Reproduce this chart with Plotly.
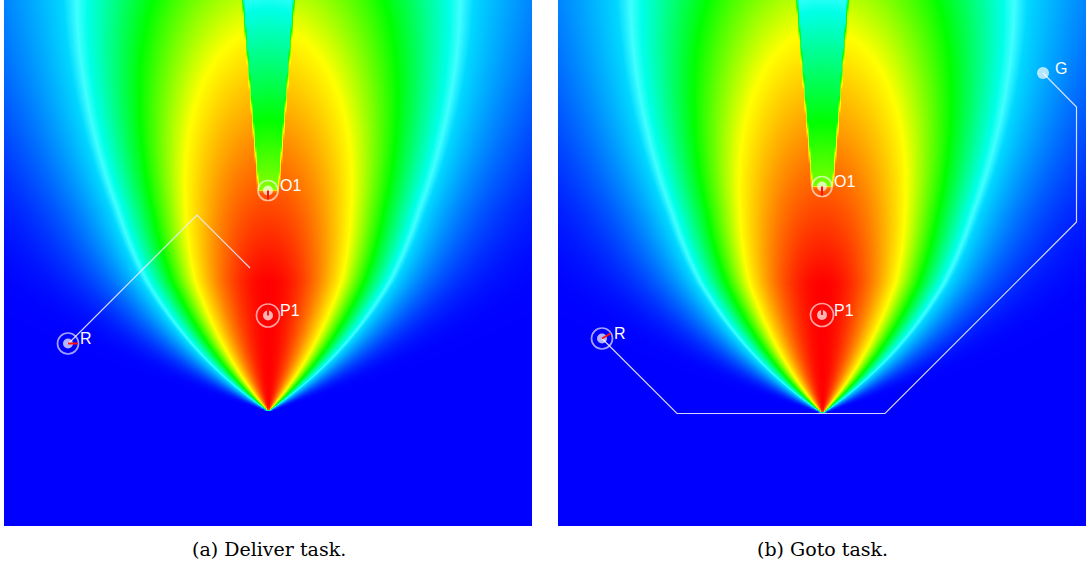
import numpy as np
import plotly.graph_objects as go

# ---------------- data (map cells, x to the right, y downward) ----------------
panel_titles = ["(a) Deliver task.", "(b) Goto task."]
panel_size = (529, 527)                      # map width / height in cells

sensor_apex = [(264, 411), (264, 413)]      # tip of the visibility cone
p1_pos = [(264, 315.5), (264, 315)]         # person P1
o1_pos = [(264, 190.5), (264, 186.5)]       # obstacle O1
robot_pos = [(64, 343.5), (44, 338.5)]      # robot R
robot_heading_deg = [0, 30]
goal_pos = [None, (485, 73)]                # goal G (Goto task only)

path_x = [[64, 193, 246], [44, 119, 327, 518.5, 518.5, 485]]
path_y = [[344, 215, 268], [338.5, 413.5, 413.5, 222, 107, 73]]

point_labels = ["P1", "O1", "R", "G"]

# field model parameters (visibility/cost field)
spread_gain = 7.6          # lateral spread ~ gain * sqrt(distance ahead)
spread_ramp = 60.0         # spread ramp-up near the apex
spread_far = 0.00042       # extra widening far from the apex
peak_flat = 130.0          # distance over which the peak stays at 1
peak_decay = 0.0013        # linear decay of the peak beyond peak_flat
shadow_drop = 0.29         # value removed inside O1's shadow
shadow_slope = 0.081       # half-width growth of the shadow wedge


def field(apex, p1, o1, step=2):
    W, H = panel_size
    xs = np.arange(step / 2, W, step)
    ys = np.arange(step / 2, H, step)
    X, Y = np.meshgrid(xs, ys)
    dy = apex[1] - Y
    dx = X - apex[0]
    dyp = np.clip(dy, 1e-6, None)
    sig = (spread_gain * np.sqrt(dyp) * np.sqrt(1 - np.exp(-dyp / spread_ramp))
           * (1 + spread_far * np.clip(dyp - 200, 0, None)))
    amp = np.clip(1 - peak_decay * np.clip(dyp - peak_flat, 0, None), 0, 1)
    f = amp * np.exp(-dx ** 2 / (2 * sig ** 2))
    f[dy <= 0] = 0
    # shadow cast by O1 as seen from P1 (soft edge for anti-aliasing)
    vx, vy = o1[0] - p1[0], o1[1] - p1[1]
    L = np.hypot(vx, vy)
    ux, uy = vx / L, vy / L
    along = (X - p1[0]) * ux + (Y - p1[1]) * uy
    perp = np.abs((X - p1[0]) * (-uy) + (Y - p1[1]) * ux)
    w = np.clip((shadow_slope * along - perp) / 1.5 + 0.5, 0, 1)
    w = w * np.clip((along - L) / 1.5 + 0.5, 0, 1)
    f = f - shadow_drop * w
    f = np.clip(f, 0, 1)
    return xs, ys, np.round(f, 3)


colorscale = [
    [0.0, "#0000ff"], [0.30, "#00d8ff"], [0.33, "#40ffff"], [0.355, "#00ffe8"],
    [0.5, "#00ff00"], [0.67, "#ffff00"], [0.83, "#ff8000"], [1.0, "#ff0000"],
]

FIG_W, FIG_H = 1092, 566
panel_px = [(4, 533), (558, 1087)]
panel_bottom_px = 527

fig = go.Figure()
annotations = []

for i in range(2):
    xa = "x" if i == 0 else "x2"
    ya = "y" if i == 0 else "y2"
    xs, ys, z = field(sensor_apex[i], p1_pos[i], o1_pos[i])
    fig.add_trace(go.Heatmap(
        x=xs, y=ys, z=z, zmin=0, zmax=1, colorscale=colorscale,
        showscale=False, zsmooth="best", hoverinfo="skip",
        xaxis=xa, yaxis=ya))
    # path
    fig.add_trace(go.Scatter(
        x=path_x[i], y=path_y[i], mode="lines",
        line=dict(color="rgba(235,235,255,0.9)", width=1.2),
        hoverinfo="skip", xaxis=xa, yaxis=ya, showlegend=False))
    # rings
    ring_pts = [p1_pos[i], o1_pos[i], robot_pos[i]]
    ring_sizes = [23, 20, 21]
    fig.add_trace(go.Scatter(
        x=[p[0] for p in ring_pts], y=[p[1] for p in ring_pts], mode="markers",
        marker=dict(symbol="circle-open", size=ring_sizes, color="rgba(255,255,255,0.9)",
                    line=dict(width=1.7)),
        hoverinfo="skip", xaxis=xa, yaxis=ya, showlegend=False))
    # dots
    dot_pts = [p1_pos[i], o1_pos[i], robot_pos[i]]
    dot_sizes = [10, 10, 10]
    if goal_pos[i] is not None:
        dot_pts.append(goal_pos[i])
        dot_sizes.append(12)
    fig.add_trace(go.Scatter(
        x=[p[0] for p in dot_pts], y=[p[1] for p in dot_pts], mode="markers",
        marker=dict(symbol="circle", size=dot_sizes, color="white", line=dict(width=0)),
        hoverinfo="skip", xaxis=xa, yaxis=ya, showlegend=False))
    # heading ticks
    headings = [(p1_pos[i], 90, 8), (o1_pos[i], -90, 9), (robot_pos[i], robot_heading_deg[i], 10)]
    for (px, py), ang, ln in headings:
        a = np.deg2rad(ang)
        fig.add_trace(go.Scatter(
            x=[px, px + ln * np.cos(a)], y=[py, py - ln * np.sin(a)], mode="lines",
            line=dict(color="#ff1010", width=2), hoverinfo="skip",
            xaxis=xa, yaxis=ya, showlegend=False))
    # labels
    lab_pts = [p1_pos[i], o1_pos[i], robot_pos[i]]
    labs = point_labels[:3]
    if goal_pos[i] is not None:
        lab_pts.append(goal_pos[i])
        labs.append(point_labels[3])
    for (px, py), t in zip(lab_pts, labs):
        annotations.append(dict(
            x=px + 10, y=py - 5, xref=xa, yref=ya, text=t, showarrow=False,
            xanchor="left", yanchor="middle",
            font=dict(family="Liberation Sans, Arial, sans-serif", size=16, color="white")))
    # caption
    cx = (panel_px[i][0] + panel_px[i][1]) / 2 / FIG_W
    annotations.append(dict(
        x=cx, y=1 - 549 / FIG_H, xref="paper", yref="paper", text=panel_titles[i],
        showarrow=False, xanchor="center", yanchor="middle",
        font=dict(family="DejaVu Serif, serif", size=19, color="#000")))

W, H = panel_size
ydom = [1 - panel_bottom_px / FIG_H, 1]
axis_common = dict(showgrid=False, zeroline=False, showticklabels=False, ticks="",
                   showline=False)
fig.update_layout(
    width=FIG_W, height=FIG_H, margin=dict(l=0, r=0, t=0, b=0),
    paper_bgcolor="white", plot_bgcolor="white", showlegend=False,
    xaxis=dict(domain=[panel_px[0][0] / FIG_W, panel_px[0][1] / FIG_W], range=[0, W], **axis_common),
    yaxis=dict(domain=ydom, range=[H, 0], **axis_common),
    xaxis2=dict(domain=[panel_px[1][0] / FIG_W, panel_px[1][1] / FIG_W], range=[0, W], **axis_common),
    yaxis2=dict(domain=ydom, range=[H, 0], **axis_common),
    annotations=annotations,
)

fig.write_html("out.html", config={"displayModeBar": False},
               post_script="document.body.style.margin='0px';")
